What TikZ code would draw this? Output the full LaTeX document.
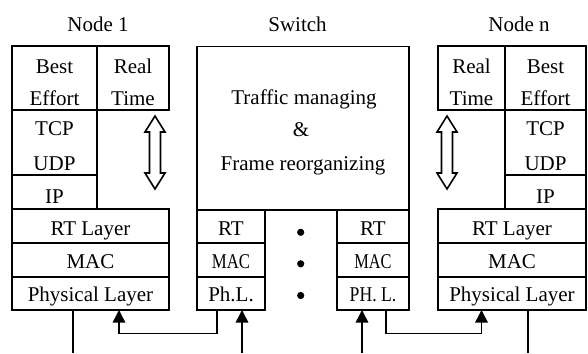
\documentclass[tikz,border=0pt]{standalone}
\usepackage{fontspec}
\setmainfont{Liberation Serif}
\usetikzlibrary{arrows.meta}
\newcommand\bx[4]{\node[box, minimum width=#3pt, minimum height=#4pt] (#1) at (#2) {};}
\begin{document}
\begin{tikzpicture}[x=1pt,y=-1pt,
  box/.style={draw, line width=1.9pt, inner sep=0pt, outer sep=0pt},
  lbl/.style={anchor=base, inner sep=0pt, font=\fontsize{21}{24}\selectfont},
  conn/.style={line width=1.5pt},
  tipped/.style={conn, -{Triangle[width=12.5pt,length=12.5pt]}},
  dbl/.style={draw, line width=1.6pt, fill=white, line join=miter}]
\useasboundingbox (0,0) rectangle (588,353);
% ---------- Node 1 ----------
\bx{be1}{54.5,78}{85}{64}
\bx{rt1}{133,78}{72}{64}
\bx{tcp1}{54.5,142.5}{85}{65}
\bx{ip1}{54.5,192}{85}{34}
\bx{rtl1}{90.5,226}{157}{34}
\bx{mac1}{90.5,260}{157}{34}
\bx{phy1}{90.5,293.5}{157}{33}
% ---------- Switch ----------
\bx{sw}{303,128.25}{212}{163.5}
\bx{srt1}{231,226.5}{68}{33}
\bx{smac1}{231,260}{68}{34}
\bx{sph1}{231,293.5}{68}{33}
\bx{srt2}{373,226.5}{72}{33}
\bx{smac2}{373,260}{72}{34}
\bx{sph2}{373,293.5}{72}{33}
% ---------- Node n ----------
\bx{rtn}{471.5,78}{67}{64}
\bx{ben}{545.5,78}{81}{64}
\bx{tcpn}{545.5,142.5}{81}{65}
\bx{ipn}{545.5,192}{81}{34}
\bx{rtln}{512,226}{148}{34}
\bx{macn}{512,260}{148}{34}
\bx{phyn}{512,293.5}{148}{33}
% ---------- titles ----------
\node[lbl] (tn1) at (98,31.7) {Node 1};
\node[lbl] (tsw) at (297.5,31.7) {Switch};
\node[lbl] (tnn) at (519,31.7) {Node n};
% ---------- Node 1 texts ----------
\node[lbl] (l1a) at (54.5,73.3) {Best};
\node[lbl] (l1b) at (54.5,105) {Effort};
\node[lbl] (l1c) at (133,73.3) {Real};
\node[lbl] (l1d) at (133,105) {Time};
\node[lbl] (l1e) at (54.5,135) {TCP};
\node[lbl] (l1f) at (54.5,170.7) {UDP};
\node[lbl] (l1g) at (54.5,203) {IP};
\node[lbl] (l1h) at (90.5,235) {RT Layer};
\node[lbl] (l1i) at (90.5,268) {MAC};
\node[lbl] (l1j) at (90.5,301.7) {Physical Layer};
% ---------- Switch texts ----------
\node[lbl] (ls1) at (304,104) {Traffic managing};
\node[lbl] (ls2) at (301,136.7) {\&};
\node[lbl] (ls3) at (303,170.7) {Frame reorganizing};
\node[lbl] (ls4) at (231,235) {RT};
\node[lbl] (ls5) at (231,268) {\scalebox{0.8}[1]{MAC}};
\node[lbl] (ls6) at (231,301.7) {Ph.L.};
\node[lbl] (ls7) at (373,235) {RT};
\node[lbl] (ls8) at (373,268) {\scalebox{0.78}[1]{MAC}};
\node[lbl] (ls9) at (373,301.7) {\scalebox{0.84}[1]{PH. L.}};
% dots
\fill (300.7,232.3) circle (3.6pt);
\fill (300.7,263.8) circle (3.6pt);
\fill (300.7,295.5) circle (3.6pt);
% ---------- Node n texts ----------
\node[lbl] (lna) at (471.5,73.3) {Real};
\node[lbl] (lnb) at (471.5,105) {Time};
\node[lbl] (lnc) at (545.5,73.3) {Best};
\node[lbl] (lnd) at (545.5,105) {Effort};
\node[lbl] (lne) at (545.5,135) {TCP};
\node[lbl] (lnf) at (545.5,170.7) {UDP};
\node[lbl] (lng) at (545.5,203) {IP};
\node[lbl] (lnh) at (512,235) {RT Layer};
\node[lbl] (lni) at (512,268) {MAC};
\node[lbl] (lnj) at (512,301.7) {Physical Layer};
% ---------- double arrows ----------
\draw[dbl] (155,116) -- (165,132) -- (160.5,132) -- (160.5,173) -- (165,173) -- (155,189)
  -- (145,173) -- (149.5,173) -- (149.5,132) -- (145,132) -- cycle;
\draw[dbl] (447,116) -- (457,132) -- (452.5,132) -- (452.5,173) -- (457,173) -- (447,189)
  -- (437,173) -- (441.5,173) -- (441.5,132) -- (437,132) -- cycle;
% ---------- connectors ----------
\coordinate (b1) at (73,353);
\coordinate (b2) at (242,353);
\coordinate (b3) at (362,353);
\coordinate (b4) at (528,353);
\coordinate (k1) at (217,333.3);
\coordinate (k2) at (119,333.3);
\coordinate (k3) at (386,333.3);
\coordinate (k4) at (481.5,333.3);
\draw[conn] (phy1.south -| b1) -- (b1);
\draw[tipped] (sph1.south -| k1) -- (k1) -- (k2) -- (phy1.south -| k2);
\draw[tipped] (b2) -- (sph1.south -| b2);
\draw[tipped] (b3) -- (sph2.south -| b3);
\draw[tipped] (sph2.south -| k3) -- (k3) -- (k4) -- (phyn.south -| k4);
\draw[conn] (phyn.south -| b4) -- (b4);
\end{tikzpicture}
\end{document}
